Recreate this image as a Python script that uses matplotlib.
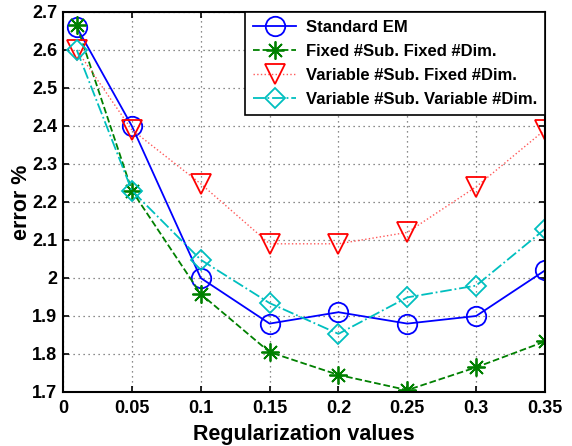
import matplotlib
matplotlib.use('Agg')
import matplotlib.pyplot as plt

reg = [0.01, 0.05, 0.1, 0.15, 0.2, 0.25, 0.3, 0.35]
standard_em = [2.66, 2.40, 2.00, 1.88, 1.91, 1.88, 1.90, 2.02]
fixed_fixed = [2.665, 2.23, 1.958, 1.805, 1.745, 1.705, 1.765, 1.833]
var_fixed = [2.60, 2.39, 2.248, 2.09, 2.09, 2.12, 2.24, 2.39]
var_var = [2.60, 2.23, 2.048, 1.934, 1.853, 1.949, 1.98, 2.129]

xticks = [0, 0.05, 0.1, 0.15, 0.2, 0.25, 0.3, 0.35]
xticklabels = ['0', '0.05', '0.1', '0.15', '0.2', '0.25', '0.3', '0.35']
yticks = [1.7, 1.8, 1.9, 2.0, 2.1, 2.2, 2.3, 2.4, 2.5, 2.6, 2.7]
yticklabels = ['1.7', '1.8', '1.9', '2', '2.1', '2.2', '2.3', '2.4', '2.5', '2.6', '2.7']

plt.rcParams['font.family'] = ['Liberation Sans', 'DejaVu Sans']
plt.rcParams['font.weight'] = 'bold'

fig = plt.figure(figsize=(5.72, 4.46), dpi=100)
ax = fig.add_axes([63 / 572, 1 - 392 / 446, (545 - 63) / 572, (392 - 12) / 446])

ax.plot(reg, standard_em, '-', color=(0, 0, 1), lw=1.3, marker='o', ms=14,
        mfc='none', mec=(0, 0, 1), mew=1.3, label='Standard EM')
ax.plot(reg, fixed_fixed, '--', color=(0, 0.5, 0), lw=1.3, marker=(8, 2, 0), ms=13,
        mec=(0, 0.5, 0), mew=1.3, label='Fixed #Sub. Fixed #Dim.')
ax.plot(reg, var_fixed, ':', color=(1, 0.35, 0.35), lw=1.0, marker='v', ms=15,
        mfc='none', mec=(1, 0, 0), mew=1.3, label='Variable #Sub. Fixed #Dim.')
ax.plot(reg, var_var, '-.', color=(0, 0.75, 0.75), lw=1.3, marker='D', ms=10,
        mfc='none', mec=(0, 0.75, 0.75), mew=1.3, label='Variable #Sub. Variable #Dim.')

ax.set_xlim(0, 0.35)
ax.set_ylim(1.7, 2.7)
ax.set_xticks(xticks)
ax.set_xticklabels(xticklabels)
ax.set_yticks(yticks)
ax.set_yticklabels(yticklabels)
ax.tick_params(direction='in', labelsize=13, width=1.2, length=4, top=True, right=True, pad=6)
ax.tick_params(axis='y', pad=4)
for s in ax.spines.values():
    s.set_linewidth(1.5)
ax.grid(True, linestyle=(0, (1, 3)), color='0.4', lw=0.9)

ax.set_xlabel('Regularization values', fontsize=15.5, fontweight='bold', labelpad=5)
ax.set_ylabel('error %', fontsize=15.5, fontweight='bold', labelpad=0)

leg = ax.legend(loc='upper right', fontsize=12, fancybox=False, framealpha=1,
                edgecolor='black', borderaxespad=0, handlelength=2.6,
                borderpad=0.45, labelspacing=0.55, handletextpad=0.6)
leg.get_frame().set_linewidth(1.2)

fig.savefig('out.png', dpi=100)
